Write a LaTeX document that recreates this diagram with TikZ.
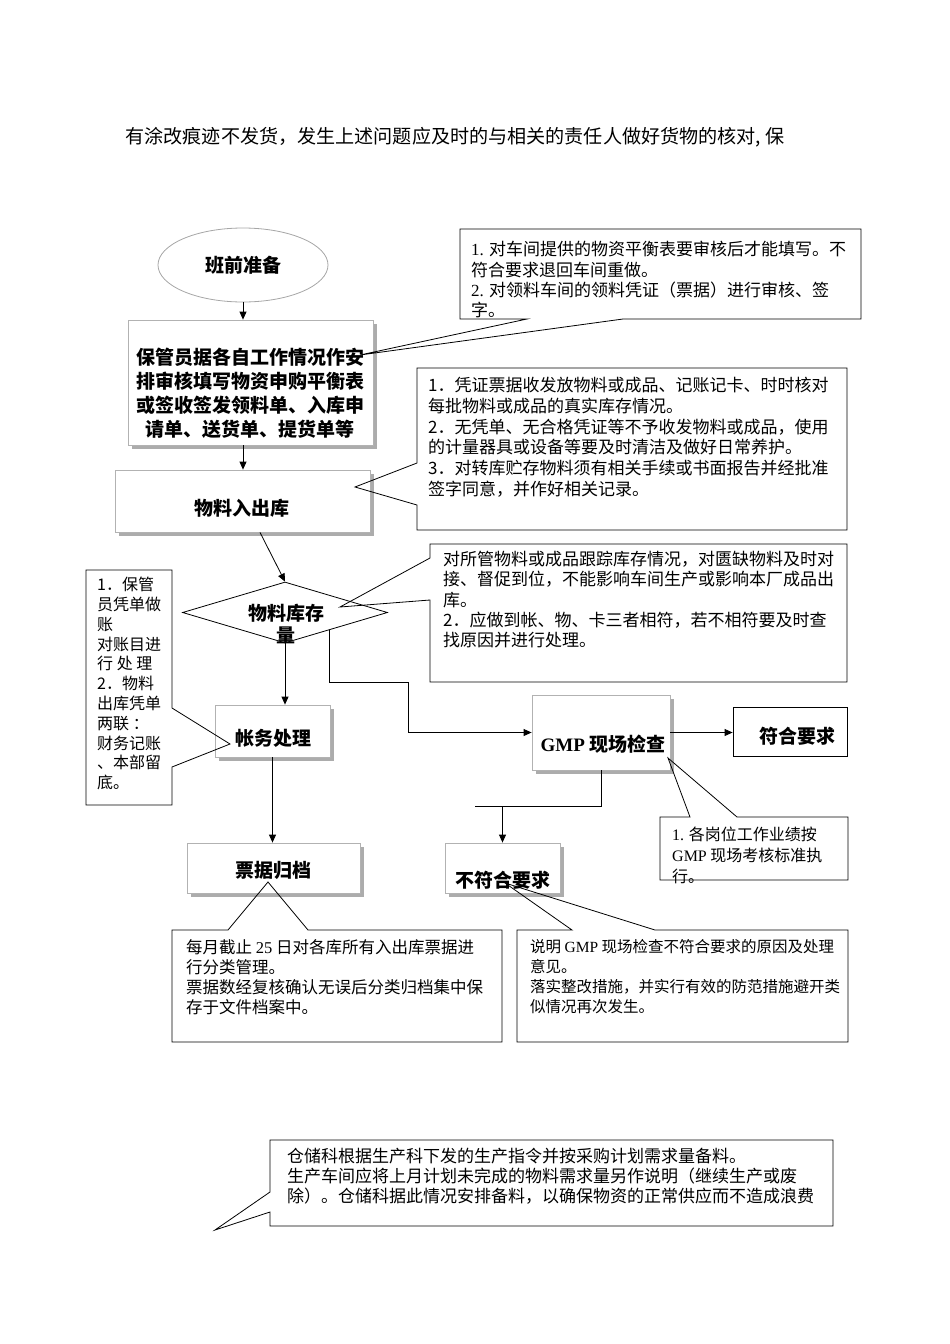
\documentclass[tikz,border=0pt]{standalone}
\usepackage{fontspec}
\setmainfont{Noto Sans CJK SC}
\newfontfamily\lat{Liberation Serif}
\usetikzlibrary{shapes.geometric,shadows,arrows.meta,calc}
\tikzset{
  box/.style={draw=gray!60, fill=white, line width=0.8pt, inner sep=0pt,
    drop shadow={shadow xshift=4pt, shadow yshift=-4pt, fill=gray!65, opacity=1}},
  plainbox/.style={draw=black, fill=white, line width=0.8pt, inner sep=0pt},
  btext/.style={inner sep=0pt, align=center, font=\bfseries\fontsize{19}{24}\selectfont},
  ctext/.style={anchor=north west, align=left, inner sep=0pt, font=\fontsize{17}{20.4}\selectfont},
  callout/.style={draw=black, line width=0.8pt, line join=miter},
  arr/.style={line width=0.8pt, -{Triangle[length=8pt,width=7pt]}},
  conn/.style={line width=0.8pt}
}
\begin{document}
\begin{tikzpicture}[x=1pt,y=-1pt]
\useasboundingbox (0,0) rectangle (950,1344);

% heading line
\node[inner sep=0pt, font=\fontsize{19.1}{22}\selectfont] (top) at (455,137) {有涂改痕迹不发货，发生上述问题应及时的与相关的责任人做好货物的核对, 保};

% main flow nodes
\node[ellipse, draw=gray!70, fill=white, line width=0.8pt, minimum width=170pt, minimum height=74pt, inner sep=0pt, font=\bfseries\fontsize{19}{24}\selectfont] (prep) at (243,265) {班前准备};

\node[box, minimum width=245pt, minimum height=125pt] (plan) at (250.5,382.5) {};
\node[btext] (plantxt) at (250,393) {保管员据各自工作情况作安\\排审核填写物资申购平衡表\\或签收签发领料单、入库申\\请单、送货单、提货单等};

\node[box, minimum width=255pt, minimum height=62pt] (inout) at (242.5,501) {};
\node[btext] (inouttxt) at (242,508) {物料入出库};

\node[diamond, draw=black, fill=white, line width=0.8pt, minimum width=205pt, minimum height=61pt, inner sep=0pt] (stock) at (285,612.5) {};
\node[btext, font=\bfseries\fontsize{19}{22}\selectfont] (stocktxt) at (286,624) {物料库存\\量};

\node[box, minimum width=115pt, minimum height=52pt] (acct) at (272.5,731) {};
\node[btext] (accttxt) at (273,738) {帐务处理};

\node[box, minimum width=173pt, minimum height=50pt] (arch) at (273.5,868) {};
\node[btext] (archtxt) at (273,870) {票据归档};

\node[box, minimum width=138pt, minimum height=75pt] (gmp) at (601,732.5) {};
\node[btext] (gmptxt) at (603,744) {{\lat\bfseries GMP} 现场检查};

\node[plainbox, minimum width=114pt, minimum height=49pt] (ok) at (790,731.5) {};
\node[btext] (oktxt) at (797,736) {符合要求};

\node[box, minimum width=115pt, minimum height=50pt] (nok) at (502.5,868) {};
\node[btext] (noktxt) at (503,880) {不符合要求};

% connectors
\draw[arr] (prep.south) -- (prep.south |- plan.north);
\draw[arr] (plan.south -| prep.south) -- (prep.south |- inout.north);
\draw[arr] ([xshift=17.5pt]inout.south) -- (stock.north);
\draw[arr] (stock.south) -- (stock.south |- acct.north);
\draw[arr] (acct.south) -- (acct.south |- arch.north);
\coordinate (s1) at ($(stock.east)!0.57!(stock.south)$);
\coordinate (bend) at (408,682);
\draw[arr] (s1) |- (bend) |- (gmp.west);
\draw[arr] (gmp.east) -- (gmp.east -| ok.west);
\coordinate (jl) at (475,806);
\draw[conn] (gmp.south) |- (jl);
\draw[arr] (nok.north |- jl) -- (nok.north);

% callouts
\draw[callout] (460,319) -- (460,229) -- (861,229) -- (861,319) -- (623,319) -- (360,355) -- (527,319) -- cycle;
\node[ctext] (c1) at (471,241) {{\lat 1.} 对车间提供的物资平衡表要审核后才能填写。不\\符合要求退回车间重做。\\{\lat 2.} 对领料车间的领料凭证（票据）进行审核、签\\字。};

\draw[callout] (417,368) -- (847,368) -- (847,530) -- (417,530) -- (417,505) -- (355,487) -- (417,463) -- cycle;
\node[ctext, font=\fontsize{17}{20.8}\selectfont] (c2) at (428,377) {1．凭证票据收发放物料或成品、记账记卡、时时核对\\每批物料或成品的真实库存情况。\\2．无凭单、无合格凭证等不予收发物料或成品，使用\\的计量器具或设备等要及时清洁及做好日常养护。\\3．对转库贮存物料须有相关手续或书面报告并经批准\\签字同意，并作好相关记录。};

\draw[callout] (430,544) -- (847,544) -- (847,682) -- (430,682) -- (430,600) -- (340,607) -- (430,558) -- cycle;
\node[ctext, font=\fontsize{17}{20.25}\selectfont] (c3) at (443,551) {对所管物料或成品跟踪库存情况，对匮缺物料及时对\\接、督促到位，不能影响车间生产或影响本厂成品出\\库。\\2．应做到帐、物、卡三者相符，若不相符要及时查\\找原因并进行处理。};

\draw[callout] (86,570) -- (172,570) -- (172,708) -- (230,744) -- (172,767) -- (172,805) -- (86,805) -- cycle;
\node[ctext, font=\fontsize{16}{19.8}\selectfont] (cl) at (97,577) {1．保管\\员凭单做\\账\\对账目进\\行 处 理\\2．物料\\出库凭单\\两联 ：\\财务记账\\、本部留\\底。};

\draw[callout] (660,817) -- (690,817) -- (668,758) -- (737,817) -- (848,817) -- (848,880) -- (660,880) -- cycle;
\node[ctext, font=\fontsize{16}{21}\selectfont] (cg) at (672,827) {{\lat 1.} 各岗位工作业绩按\\{\lat GMP} 现场考核标准执\\行。};

\draw[callout] (172,930) -- (228,930) -- (268,882) -- (308,930) -- (502,930) -- (502,1042) -- (172,1042) -- cycle;
\node[ctext, font=\fontsize{16.5}{20}\selectfont] (ca) at (186,939) {每月截止 {\lat 25} 日对各库所有入出库票据进\\行分类管理。\\票据数经复核确认无误后分类归档集中保\\存于文件档案中。};

\draw[callout] (517,930) -- (572,930) -- (505,883) -- (655,930) -- (848,930) -- (848,1042) -- (517,1042) -- cycle;
\node[ctext, font=\fontsize{15.5}{20}\selectfont] (cn) at (530,939) {说明 {\lat GMP} 现场检查不符合要求的原因及处理\\意见。\\落实整改措施，并实行有效的防范措施避开类\\似情况再次发生。};

\draw[callout] (270,1140) -- (833,1140) -- (833,1226) -- (270,1226) -- (270,1212) -- (215,1230) -- (270,1192) -- cycle;
\node[ctext, font=\fontsize{17}{20}\selectfont] (cb) at (287,1148) {仓储科根据生产科下发的生产指令并按采购计划需求量备料。\\生产车间应将上月计划未完成的物料需求量另作说明（继续生产或废\\除）。仓储科据此情况安排备料，以确保物资的正常供应而不造成浪费};

\end{tikzpicture}
\end{document}
